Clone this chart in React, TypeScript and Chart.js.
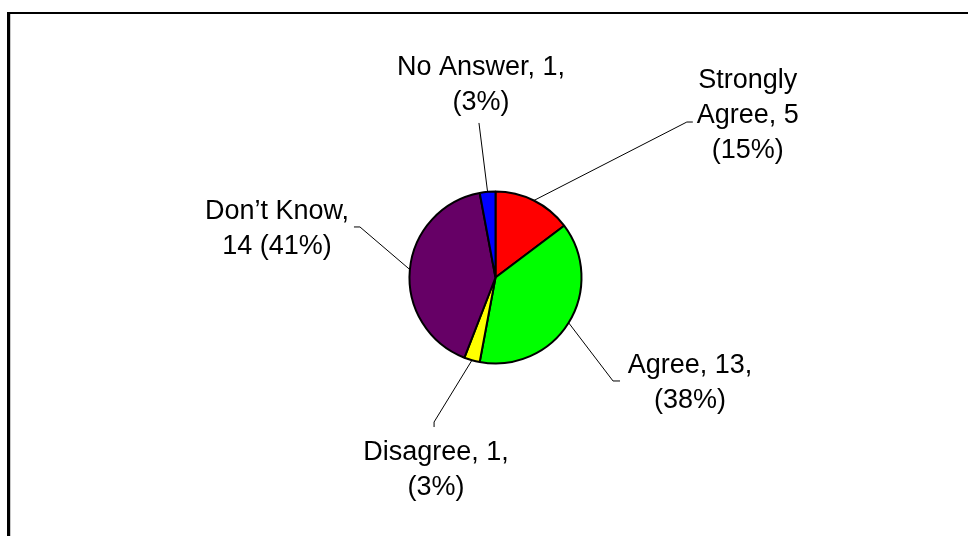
import React, { useEffect, useRef } from "react";
import { Chart, registerables } from "chart.js";

Chart.register(...registerables);

// ---- data ----
const categories = ["Strongly Agree", "Agree", "Disagree", "Don’t Know", "No Answer"];
const counts = [5, 13, 1, 14, 1];
const sliceColors = ["#FF0000", "#00FF00", "#FFFF00", "#660066", "#0000FF"];
// label text lines: {v} = value, {p} = percent
const labelTemplates = [
  ["Strongly", "Agree, {v}", "({p}%)"],
  ["Agree, {v},", "({p}%)"],
  ["Disagree, {v},", "({p}%)"],
  ["Don’t Know,", "{v} ({p}%)"],
  ["No Answer, {v},", "({p}%)"],
];

// ---- label layout (offsets relative to slice's outer mid point) ----
const labelLayout = [
  { elbow: [153, -78.5], tick: [159, -78.5], tx: 214, ty: -112.5 },
  { elbow: [44.4, 58.2], tick: [51.4, 58.2], tx: 121.4, ty: 50.2 },
  { elbow: [-37.9, 61.8], tick: [-37.9, 66.8], tx: -35.9, ty: 99.8 },
  { elbow: [-49.9, -42.6], tick: [-55.9, -42.6], tx: -132.9, ty: -50.6 },
  { elbow: [-8.6, -68.9], tick: null, tx: -6.6, ty: -116.9 },
];
const FONT = '27px "Liberation Sans", Arial, Helvetica, sans-serif';
const LINE_H = 35;

const labelPlugin = {
  id: "pieLabels",
  afterDatasetsDraw(chart: any) {
    const ctx = chart.ctx;
    const meta = chart.getDatasetMeta(0);
    const total = counts.reduce((a, b) => a + b, 0);
    ctx.save();
    meta.data.forEach((arc: any, i: number) => {
      const { x, y, startAngle, endAngle, outerRadius } = arc.getProps(
        ["x", "y", "startAngle", "endAngle", "outerRadius"],
        true
      );
      const mid = (startAngle + endAngle) / 2;
      const ex = x + Math.cos(mid) * outerRadius;
      const ey = y + Math.sin(mid) * outerRadius;
      const L = labelLayout[i];
      ctx.strokeStyle = "#000";
      ctx.lineWidth = 1;
      ctx.beginPath();
      ctx.moveTo(ex, ey);
      ctx.lineTo(ex + L.elbow[0], ey + L.elbow[1]);
      if (L.tick) ctx.lineTo(ex + L.tick[0], ey + L.tick[1]);
      ctx.stroke();

      const v = counts[i];
      const p = Math.round((v / total) * 100);
      ctx.fillStyle = "#000";
      ctx.font = FONT;
      ctx.textAlign = "center";
      ctx.textBaseline = "alphabetic";
      labelTemplates[i].forEach((t, k) => {
        const s = t.replace("{v}", String(v)).replace("{p}", String(p));
        ctx.fillText(s, ex + L.tx, ey + L.ty + k * LINE_H);
      });
    });
    ctx.restore();
  },
};

export default function App() {
  const ref = useRef<HTMLCanvasElement | null>(null);
  useEffect(() => {
    if (!ref.current) return;
    const chart = new Chart(ref.current, {
      type: "pie",
      data: {
        labels: categories,
        datasets: [
          {
            data: counts,
            backgroundColor: sliceColors,
            borderColor: "#000",
            borderWidth: 2,
            radius: 86,
          } as any,
        ],
      },
      options: {
        responsive: false,
        animation: false,
        layout: { padding: { left: 123, right: 100, top: 119, bottom: 100 } },
        plugins: {
          legend: { display: false },
          tooltip: { enabled: false },
        },
      },
      plugins: [labelPlugin],
    });
    return () => chart.destroy();
  }, []);

  return (
    <div
      style={{
        position: "fixed",
        left: 0,
        top: 0,
        width: 968,
        height: 536,
        overflow: "hidden",
        background: "#fff",
      }}
    >
      <div
        style={{
          position: "absolute",
          left: 7,
          top: 12,
          width: 1200,
          height: 1000,
          borderTop: "2px solid #000",
          borderLeft: "3px solid #000",
          boxShadow: "inset 1px 0 0 #c8c8c8",
        }}
      />
      <canvas
        ref={ref}
        width={968}
        height={536}
        style={{ position: "absolute", left: 0, top: 0, display: "block" }}
      />
    </div>
  );
}
